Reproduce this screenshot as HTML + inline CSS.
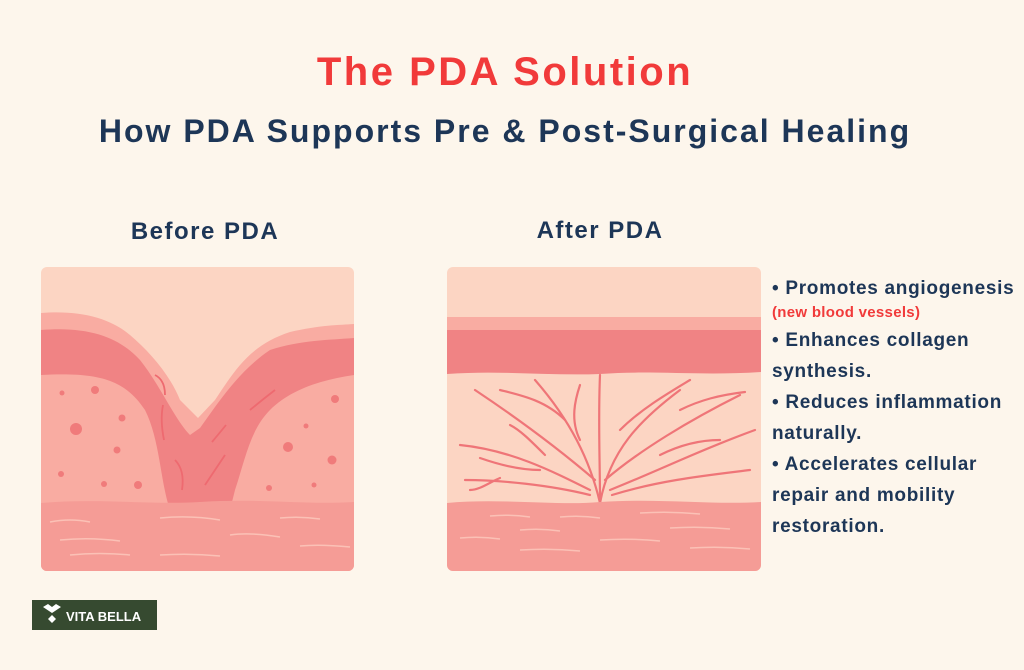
<!DOCTYPE html>
<html><head><style>
html,body{margin:0;padding:0;width:1024px;height:670px;background:#fdf6ec;overflow:hidden;font-family:"Liberation Sans",sans-serif;}
.t{position:absolute;white-space:nowrap;font-weight:bold;}
</style></head><body>
<div class="t" style="left:0;width:1010px;text-align:center;top:50px;font-size:40px;letter-spacing:2.5px;color:#f13a3a;">The PDA Solution</div>
<div class="t" style="left:0;width:1010px;text-align:center;top:113px;font-size:32px;letter-spacing:2px;color:#1d3657;">How PDA Supports Pre &amp; Post-Surgical Healing</div>
<div class="t" style="left:105px;width:200px;text-align:center;top:218px;font-size:24px;letter-spacing:1.5px;color:#1d3657;">Before PDA</div>
<div class="t" style="left:500px;width:200px;text-align:center;top:217px;font-size:24px;letter-spacing:1.5px;color:#1d3657;">After PDA</div>
<div style="position:absolute;left:772px;top:273px;font-size:19px;font-weight:bold;letter-spacing:0.7px;color:#1d3657;line-height:31px;">
<div>• Promotes angiogenesis</div>
<div style="font-size:15px;color:#f13a3a;line-height:24px;margin-top:-3px;letter-spacing:0.3px;">(new blood vessels)</div>
<div>• Enhances collagen</div><div>synthesis.</div>
<div>• Reduces inflammation</div><div>naturally.</div>
<div>• Accelerates cellular</div><div>repair and mobility</div><div>restoration.</div>
</div>
<svg width="1024" height="670" style="position:absolute;left:0;top:0">
<defs><clipPath id="c1"><rect x="41" y="267" width="313" height="304" rx="6"/></clipPath>
<clipPath id="c2"><rect x="447" y="267" width="314" height="304" rx="6"/></clipPath></defs>
<g clip-path="url(#c1)">
<rect x="41" y="267" width="313" height="304" fill="#fcd5c3"/>
<path d="M41 313 C80 310 110 318 130 335 C150 352 170 375 180 400 L198 418 L215 400 C235 370 250 345 290 332 C320 325 340 325 354 324 L354 571 L41 571Z" fill="#f9aca2"/>
<path d="M41 330 C90 326 120 338 140 360 C160 385 175 420 190 435 L200 428 C220 400 240 370 270 350 C300 340 330 340 354 338 L354 375 C320 380 290 390 270 410 C250 430 245 460 235 490 L230 510 L170 510 C160 480 160 440 145 410 C125 380 100 372 41 375Z" fill="#f08384"/>
<g fill="#f07b7b"><circle cx="76" cy="429" r="6"/><circle cx="95" cy="390" r="4"/><circle cx="122" cy="418" r="3.5"/><circle cx="117" cy="450" r="3.5"/><circle cx="138" cy="485" r="4"/><circle cx="61" cy="474" r="3"/><circle cx="104" cy="484" r="3"/><circle cx="62" cy="393" r="2.5"/><circle cx="335" cy="399" r="4"/><circle cx="288" cy="447" r="5"/><circle cx="332" cy="460" r="4.5"/><circle cx="306" cy="426" r="2.5"/><circle cx="269" cy="488" r="3"/><circle cx="314" cy="485" r="2.5"/></g>
<g stroke="#ee6a70" stroke-width="1.8" fill="none"><path d="M250 410 Q262 400 275 390"/><path d="M175 460 Q185 470 182 490"/><path d="M205 485 Q215 470 225 455"/><path d="M155 375 Q165 380 165 395"/><path d="M163 405 Q160 420 164 440"/><path d="M212 442 Q222 430 226 425"/></g>
<path d="M41 503 C100 498 150 505 200 502 C260 498 300 505 354 502 L354 571 L41 571Z" fill="#f59c96"/>
<g stroke="#fbc1b6" stroke-width="1.5" fill="none"><path d="M50 522 Q70 518 90 522"/><path d="M160 518 Q190 515 220 520"/><path d="M280 518 Q300 516 320 519"/><path d="M60 540 Q90 537 120 541"/><path d="M230 535 Q250 532 280 537"/><path d="M70 555 Q100 552 130 555"/><path d="M160 555 Q190 553 220 556"/><path d="M300 546 Q320 544 350 547"/></g>
</g>
<g clip-path="url(#c2)">
<rect x="447" y="267" width="314" height="304" fill="#fcd5c3"/>
<rect x="447" y="317" width="314" height="14" fill="#f9aca2"/>
<path d="M447 330 L761 330 L761 372 C700 376 650 370 600 374 C550 376 500 370 447 374Z" fill="#f08384"/>
<g stroke="#ef7578" stroke-width="2.2" fill="none" stroke-linecap="round">
<path d="M600 503 C590 460 570 420 535 380"/><path d="M600 503 C610 450 640 420 680 390"/><path d="M600 503 C600 460 598 420 600 375"/>
<path d="M595 480 C560 450 520 420 475 390"/><path d="M605 480 C640 450 690 420 740 395"/>
<path d="M590 490 C550 470 510 450 460 445"/><path d="M610 490 C660 470 700 450 755 430"/>
<path d="M590 495 C550 485 500 480 465 480"/><path d="M612 495 C660 480 710 475 750 470"/>
<path d="M580 440 C570 420 575 400 580 385"/><path d="M620 430 C640 410 665 395 690 380"/>
<path d="M565 420 C545 400 520 395 500 390"/><path d="M680 410 C700 400 720 395 745 392"/>
<path d="M545 455 C530 440 520 430 510 425"/><path d="M660 455 C680 445 700 440 720 440"/>
<path d="M540 470 C520 470 500 465 480 458"/><path d="M500 478 C490 482 480 490 470 490"/>
</g>
<path d="M447 503 C500 498 560 506 600 502 C660 498 710 505 761 502 L761 571 L447 571Z" fill="#f59c96"/>
<g stroke="#fbc1b6" stroke-width="1.5" fill="none"><path d="M490 516 Q510 514 530 517"/><path d="M560 517 Q580 515 600 518"/><path d="M640 513 Q670 511 700 514"/><path d="M520 530 Q540 528 560 531"/><path d="M670 528 Q700 526 730 529"/><path d="M460 538 Q480 536 500 539"/><path d="M600 540 Q630 538 660 541"/><path d="M520 550 Q550 548 580 551"/><path d="M690 548 Q720 546 750 549"/></g>
</g>
<rect x="32" y="600" width="125" height="30" fill="#364a30"/>
<path d="M43 607 L48 604 L52 607 L56 604 L61 607 L52 613Z M52 615 L56 619 L52 623 L48 619Z" fill="#fff"/>
<text x="66" y="621" font-family="Liberation Sans,sans-serif" font-weight="bold" font-size="13" fill="#fff">VITA BELLA</text>
</svg>
</body></html>
